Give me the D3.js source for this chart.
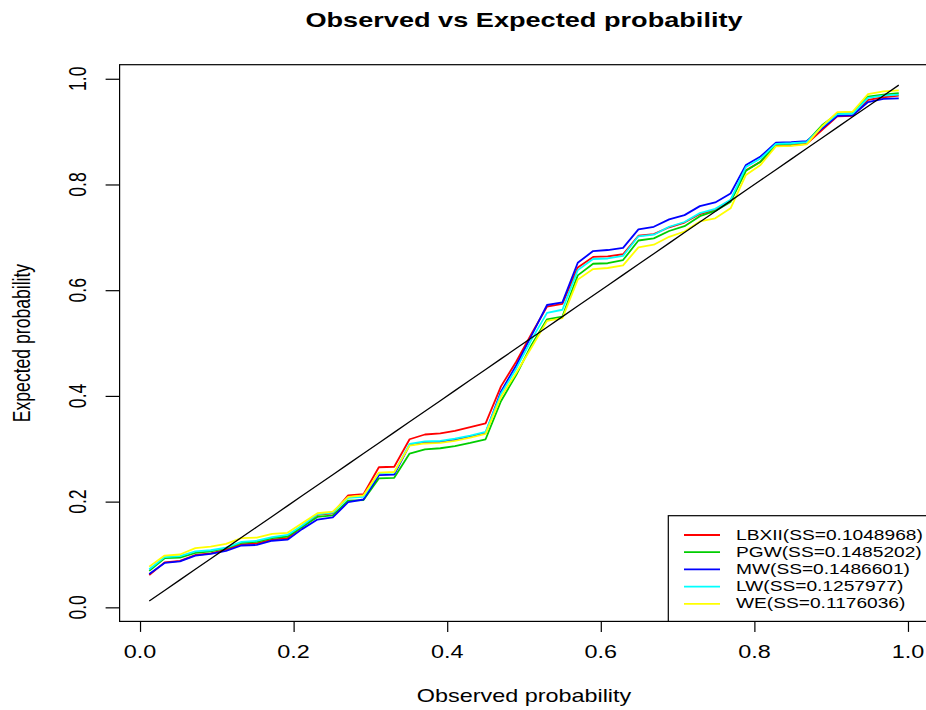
<!DOCTYPE html>
<html><head><meta charset="utf-8">
<script src="https://cdn.jsdelivr.net/npm/d3@7"></script>
<style>body{margin:0;background:#fff}svg{display:block}text{font-family:"Liberation Sans",Arial,sans-serif;fill:#000}</style>
</head><body><svg id="c" width="926" height="710"></svg>
<script>
const observed = [0.012,0.032,0.052,0.072,0.092,0.112,0.132,0.152,0.172,0.192,0.211,0.231,0.251,0.271,0.291,0.311,0.331,0.351,0.371,0.391,0.410,0.430,0.450,0.470,0.490,0.510,0.530,0.550,0.570,0.590,0.609,0.629,0.649,0.669,0.689,0.709,0.729,0.749,0.769,0.789,0.808,0.828,0.848,0.868,0.888,0.908,0.928,0.948,0.968,0.988];
const LBXII = [0.061,0.085,0.088,0.099,0.102,0.109,0.119,0.121,0.128,0.131,0.152,0.175,0.178,0.212,0.214,0.265,0.266,0.318,0.327,0.329,0.334,0.341,0.348,0.418,0.465,0.518,0.569,0.574,0.643,0.663,0.664,0.668,0.703,0.706,0.719,0.728,0.744,0.752,0.770,0.827,0.843,0.873,0.874,0.877,0.903,0.929,0.930,0.960,0.965,0.968];
const PGW = [0.069,0.093,0.094,0.103,0.106,0.112,0.122,0.124,0.131,0.134,0.152,0.171,0.174,0.202,0.203,0.244,0.245,0.291,0.299,0.301,0.305,0.311,0.318,0.390,0.440,0.497,0.545,0.550,0.628,0.650,0.651,0.657,0.694,0.698,0.712,0.721,0.740,0.750,0.767,0.826,0.843,0.876,0.877,0.880,0.912,0.934,0.935,0.966,0.970,0.973];
const MW = [0.063,0.084,0.087,0.098,0.101,0.107,0.117,0.118,0.126,0.128,0.148,0.166,0.170,0.199,0.204,0.250,0.251,0.307,0.312,0.313,0.317,0.323,0.330,0.408,0.458,0.515,0.572,0.577,0.652,0.674,0.676,0.680,0.715,0.720,0.734,0.742,0.759,0.766,0.783,0.837,0.853,0.879,0.880,0.882,0.906,0.930,0.931,0.956,0.962,0.963];
const LW = [0.072,0.095,0.097,0.106,0.108,0.113,0.124,0.126,0.133,0.137,0.155,0.176,0.179,0.207,0.209,0.254,0.255,0.309,0.314,0.315,0.319,0.325,0.332,0.404,0.452,0.507,0.557,0.563,0.638,0.659,0.660,0.665,0.702,0.705,0.720,0.729,0.746,0.754,0.771,0.833,0.849,0.877,0.878,0.880,0.909,0.933,0.934,0.964,0.968,0.970];
const WE = [0.077,0.098,0.100,0.112,0.115,0.120,0.131,0.132,0.139,0.141,0.159,0.178,0.181,0.209,0.212,0.255,0.256,0.306,0.310,0.311,0.315,0.321,0.328,0.398,0.444,0.492,0.542,0.547,0.620,0.640,0.642,0.647,0.681,0.686,0.701,0.711,0.730,0.736,0.755,0.818,0.837,0.872,0.873,0.876,0.910,0.937,0.938,0.971,0.976,0.978];
const seriesNames = ["LBXII","PGW","MW","LW","WE"];
const seriesColors = ["#FF0000","#00CD00","#0000FF","#00FFFF","#FFFF00"];
const ssValues = ["0.1048968","0.1485202","0.1486601","0.1257977","0.1176036"];
const tickValues = [0,0.2,0.4,0.6,0.8,1.0];
const titleText = "Observed vs Expected probability";
const xTitle = "Observed probability";
const yTitle = "Expected probability";

const seriesData = [LBXII, PGW, MW, LW, WE];
const SX = 1.33; // horizontal stretch of the glyphs
const svg = d3.select("#c");
const lo = -0.0266, hi = 1.0266;
const x = d3.scaleLinear().domain([lo, hi]).range([119.6, 928.4]);
const y = d3.scaleLinear().domain([lo, hi]).range([621.4, 64.7]);

function stext(g, tx, ty, str, size, opts={}) {
  const t = g.append("text")
    .attr("transform", `translate(${tx},${ty}) scale(${SX},1)` + (opts.rot ? ` rotate(${opts.rot})` : ""))
    .attr("text-anchor", opts.anchor || "middle")
    .attr("dominant-baseline", "central")
    .style("font-size", size + "px")
    .text(str);
  if (opts.bold) t.style("font-weight", "bold");
  return t;
}

// lines
const line = d3.line().x((d,i)=>x(observed[i])).y(d=>y(d));
seriesData.forEach((s, k) => {
  svg.append("path").datum(s).attr("d", line).attr("fill","none")
    .attr("stroke", seriesColors[k]).attr("stroke-width", 1.8).attr("stroke-linejoin","round");
});
svg.append("path").datum(observed).attr("d", line).attr("fill","none")
  .attr("stroke","#000").attr("stroke-width",1.3);

// box
svg.append("rect").attr("x", x(lo)).attr("y", y(hi)).attr("width", x(hi)-x(lo)).attr("height", y(lo)-y(hi))
  .attr("fill","none").attr("stroke","#000").attr("stroke-width",1.2);

// x axis
const xa = svg.append("g").attr("transform", `translate(0,${y(lo)})`)
  .call(d3.axisBottom(x).tickValues(tickValues).tickSize(10.5).tickFormat(()=>"") );
xa.select(".domain").remove();
xa.selectAll("line").attr("stroke","#000").attr("stroke-width",1.2);
tickValues.forEach(v => stext(svg, x(v), 652, d3.format(".1f")(v), 17.6));

// y axis
const ya = svg.append("g").attr("transform", `translate(${x(lo)},0)`)
  .call(d3.axisLeft(y).tickValues(tickValues).tickSize(14).tickFormat(()=>"") );
ya.select(".domain").remove();
ya.selectAll("line").attr("stroke","#000").attr("stroke-width",1.2);
tickValues.forEach(v => stext(svg, 78, y(v), d3.format(".1f")(v), 17.6, {rot:-90}));

// titles
stext(svg, 524, 20, titleText, 20.4, {bold:true});
stext(svg, 524, 696, xTitle, 17.6);
stext(svg, 22, 343, yTitle, 17.6, {rot:-90});

// legend
const lg = svg.append("g");
lg.append("rect").attr("x", 668.3).attr("y", 515.7).attr("width", x(hi)-668.3).attr("height", y(lo)-515.7)
  .attr("fill","#fff").attr("stroke","#000").attr("stroke-width",1.2);
seriesNames.forEach((n,k) => {
  const ry = 535 + k*17.2;
  lg.append("line").attr("x1",684).attr("x2",720).attr("y1",ry).attr("y2",ry)
    .attr("stroke", seriesColors[k]).attr("stroke-width",1.8);
  stext(lg, 736, ry, `${n}(SS=${ssValues[k]})`, 14.4, {anchor:"start"});
});
</script></body></html>
